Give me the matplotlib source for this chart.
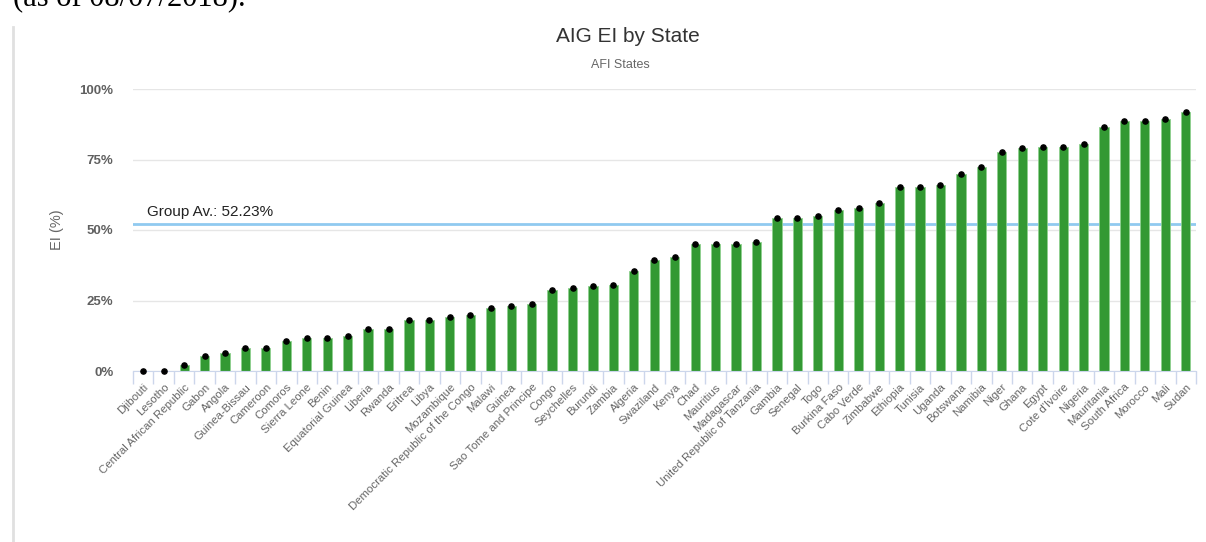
import matplotlib.pyplot as plt
from matplotlib.lines import Line2D

plt.rcParams['font.family'] = ['Liberation Sans', 'DejaVu Sans']

states = ['Djibouti', 'Lesotho', 'Central African Republic', 'Gabon', 'Angola',
          'Guinea-Bissau', 'Cameroon', 'Comoros', 'Sierra Leone', 'Benin',
          'Equatorial Guinea', 'Liberia', 'Rwanda', 'Eritrea', 'Libya',
          'Mozambique', 'Democratic Republic of the Congo', 'Malawi', 'Guinea',
          'Sao Tome and Principe', 'Congo', 'Seychelles', 'Burundi', 'Zambia',
          'Algeria', 'Swaziland', 'Kenya', 'Chad', 'Mauritius', 'Madagascar',
          'United Republic of Tanzania', 'Gambia', 'Senegal', 'Togo',
          'Burkina Faso', 'Cabo Verde', 'Zimbabwe', 'Ethiopia', 'Tunisia',
          'Uganda', 'Botswana', 'Namibia', 'Niger', 'Ghana', 'Egypt',
          "Cote d'Ivoire", 'Nigeria', 'Mauritania', 'South Africa', 'Morocco',
          'Mali', 'Sudan']
ei = [0.0, 0.0, 2.3, 5.4, 6.3, 8.2, 8.2, 10.6, 11.6, 11.6,
      12.4, 14.9, 14.9, 18.0, 18.0, 19.0, 20.0, 22.3, 22.9, 23.8,
      28.8, 29.3, 30.1, 30.6, 35.3, 39.5, 40.4, 45.1, 45.1, 45.1,
      45.9, 54.3, 54.3, 54.9, 57.1, 57.7, 59.5, 65.1, 65.1, 65.9,
      70.0, 72.5, 77.7, 79.1, 79.6, 79.6, 80.4, 86.4, 88.7, 88.7,
      89.5, 91.9]
group_avg = 52.23

fig = plt.figure(figsize=(12.06, 5.42), dpi=100)
ax = fig.add_axes([133 / 1206, 1 - 371 / 542, 1063 / 1206, 282 / 542])

x = list(range(len(states)))
ax.axhline(group_avg, color='#90caf0', lw=2, zorder=1)
ax.bar(x, ei, width=0.45, color='#339933', edgecolor='#8fd08f', linewidth=0.6, zorder=2)
ax.scatter(x, ei, s=14, color='black', zorder=3, clip_on=False)
ax.text(0.2, group_avg + 1.5, 'Group Av.: 52.23%', fontsize=11, color='#222222',
        va='bottom', ha='left')

ax.set_xlim(-0.5, len(states) - 0.5)
ax.set_ylim(0, 100)
ax.set_yticks([0, 25, 50, 75, 100])
ax.set_yticklabels(['0%', '25%', '50%', '75%', '100%'], color='#606060',
                   fontsize=9.5, fontweight='bold')
ax.yaxis.grid(True, color='#e6e6e6', lw=1)
ax.set_axisbelow(True)
ax.tick_params(axis='y', length=0, pad=14)

ax.set_xticks(x)
ax.set_xticklabels(states, rotation=45, ha='right', rotation_mode='anchor',
                   fontsize=8.2, color='#666666')
ax.tick_params(axis='x', which='major', length=0, pad=8)
ax.set_xticks([i - 0.5 for i in range(len(states) + 1)], minor=True)
ax.tick_params(axis='x', which='minor', length=9, color='#ccd6eb', width=1)

for s in ['top', 'right', 'left']:
    ax.spines[s].set_visible(False)
ax.spines['bottom'].set_color('#ccd6eb')

ax.set_ylabel('EI (%)', color='#666666', fontsize=10.5)
ax.yaxis.set_label_coords((64 - 133) / 1063, 0.5)

fig.text(628 / 1206, 1 - 36 / 542, 'AIG EI by State', ha='center', va='center',
         fontsize=15, color='#333333')
fig.text(620 / 1206, 1 - 65 / 542, 'AFI States', ha='center', va='center',
         fontsize=9, color='#666666')

# clipped caption from the page above the chart
fig.text(13 / 1206, 1 - 5 / 542, '(as of 08/07/2018).', ha='left', va='baseline',
         fontsize=22, family='Liberation Serif', color='black')
fig.add_artist(Line2D([13 / 1206, 13 / 1206], [0, 1 - 27 / 542],
                      transform=fig.transFigure, color='#e0e0e0', lw=2))

fig.savefig('out.png', dpi=100, facecolor='white')
